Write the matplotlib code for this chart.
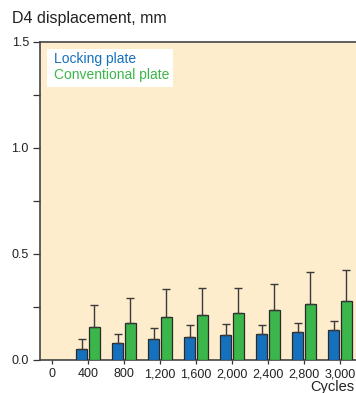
import numpy as np
import matplotlib
matplotlib.use("Agg")
import matplotlib.pyplot as plt
from matplotlib.patches import Rectangle

plt.rcParams["font.family"] = ["Liberation Sans", "DejaVu Sans"]

# D4 displacement (mm) per loading cycle, mean and upper SD
cycles = ["0", "400", "800", "1,200", "1,600", "2,000", "2,400", "2,800", "3,000"]
locking_mean = [np.nan, 0.050, 0.079, 0.098, 0.108, 0.118, 0.121, 0.131, 0.142]
locking_sd = [np.nan, 0.048, 0.042, 0.053, 0.057, 0.052, 0.044, 0.042, 0.043]
conv_mean = [np.nan, 0.154, 0.176, 0.201, 0.211, 0.222, 0.234, 0.263, 0.280]
conv_sd = [np.nan, 0.104, 0.115, 0.134, 0.130, 0.119, 0.126, 0.151, 0.146]

BLUE = "#1570bd"
GREEN = "#3bb64a"
BG = "#fdedcd"
EDGE = "#2a2a2a"
TXT = "#222222"

W, H = 356, 393
fig = plt.figure(figsize=(W / 100, H / 100), dpi=100)
# axes run past the right edge of the figure, so the last group sits at the border
ax = fig.add_axes([40 / W, 33 / H, 336 / W, 318 / H])
ax.set_facecolor(BG)

x = np.arange(len(cycles))
bw = 0.30
off = 0.17
err_kw = dict(ecolor="#3a3a3a", elinewidth=1.0, capsize=2.8, capthick=1.0)
ax.bar(x - off, locking_mean, bw, color=BLUE, edgecolor=EDGE, linewidth=0.9,
       yerr=[np.zeros(len(x)), locking_sd], error_kw=err_kw, zorder=3)
ax.bar(x + off, conv_mean, bw, color=GREEN, edgecolor=EDGE, linewidth=0.9,
       yerr=[np.zeros(len(x)), conv_sd], error_kw=err_kw, zorder=3)

ax.set_xlim(-0.333, 9.0)
ax.set_ylim(0, 1.5)
ax.set_xticks(x)
ax.set_xticklabels(cycles, fontsize=9, color=TXT)
ax.set_yticks([0, 0.5, 1.0, 1.5])
ax.set_yticklabels(["0.0", "0.5", "1.0", "1.5"], fontsize=9, color=TXT)
ax.set_yticks([0.25, 0.75, 1.25], minor=True)
ax.tick_params(axis="y", which="both", length=5, width=0.9, color="#333333", pad=3)
ax.tick_params(axis="x", length=3, width=0.9, color="#333333", pad=3)

for side in ("left", "bottom", "top"):
    ax.spines[side].set_color("#444444")
    ax.spines[side].set_linewidth(1.2)
ax.spines["right"].set_visible(False)

fig.text(12 / W, 1 - 18 / H, "D4 displacement, mm", fontsize=11.5,
         color=TXT, va="center", ha="left")
fig.text(310 / W, 1 - 387 / H, "Cycles", fontsize=10.5, color=TXT,
         va="center", ha="left")

# legend: white box with coloured labels
fig.patches.append(Rectangle((47 / W, 1 - 87 / H), 126 / W, 38 / H,
                             transform=fig.transFigure, fc="white", ec="none",
                             zorder=4))
fig.text(54 / W, 1 - 59 / H, "Locking plate", fontsize=10, color=BLUE,
         va="center", ha="left", zorder=6)
fig.text(54 / W, 1 - 75 / H, "Conventional plate", fontsize=10, color=GREEN,
         va="center", ha="left", zorder=6)

fig.savefig("out.png", dpi=100, facecolor="white")
